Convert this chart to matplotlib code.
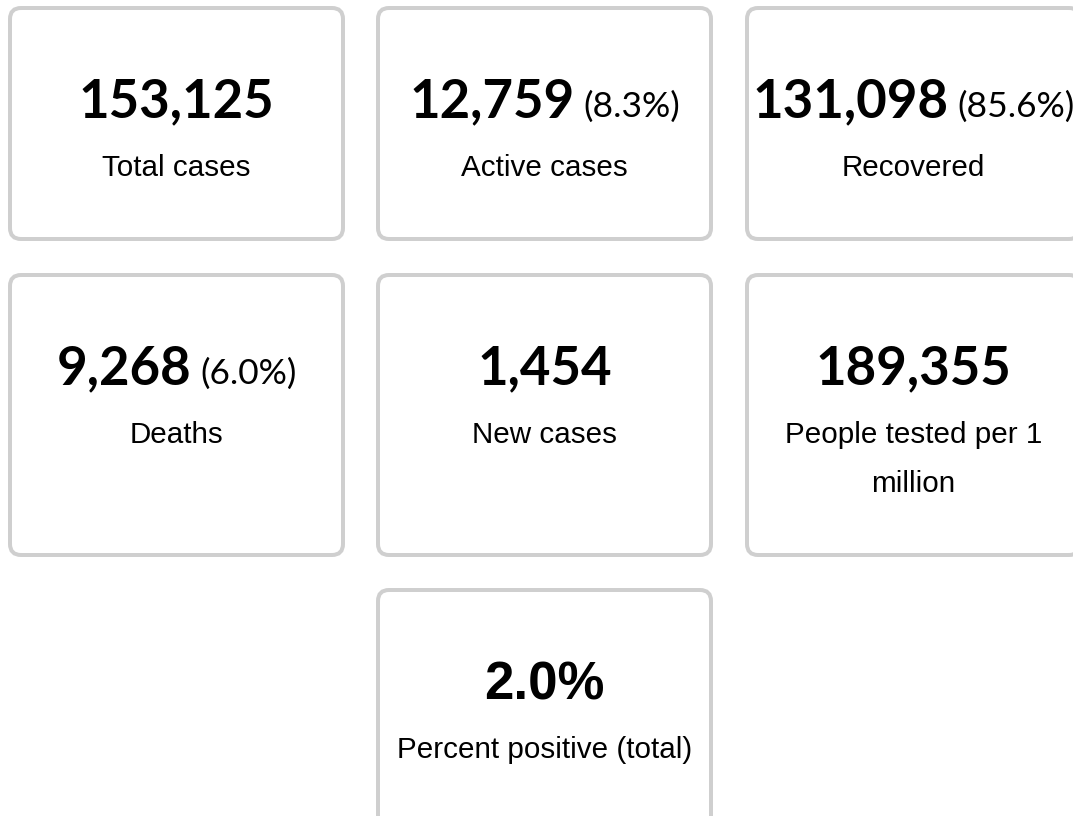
import matplotlib
matplotlib.use("Agg")
import matplotlib.pyplot as plt
from matplotlib.patches import FancyBboxPatch

# ---- data ----
values = ["153,125", "12,759", "131,098", "9,268", "1,454", "189,355", "2.0%"]
suffixes = ["", "(8.3%)", "(85.6%)", "(6.0%)", "", "", ""]
labels = ["Total cases", "Active cases", "Recovered", "Deaths", "New cases",
          "People tested per 1\nmillion", "Percent positive (total)"]
value_fonts = ["Lato", "Lato", "Lato", "Lato", "Lato", "Lato", "Liberation Sans"]
grid_cols = [0, 1, 2, 0, 1, 2, 1]
grid_rows = [0, 0, 0, 1, 1, 1, 2]

W, H = 1073, 816
fig = plt.figure(figsize=(W / 100, H / 100), dpi=100)
ax = fig.add_axes([0, 0, 1, 1])
ax.set_xlim(0, W)
ax.set_ylim(H, 0)
ax.axis("off")

col_x = [8, 376, 745]
card_w = 337
row_y = [6, 273, 588]
row_h = [235, 284, 260]
bw = 4  # border width px
px2pt = 72 / 100

for i in range(len(values)):
    c, r = grid_cols[i], grid_rows[i]
    x0, y0 = col_x[c], row_y[r]
    h = row_h[r]
    patch = FancyBboxPatch((x0 + bw / 2, y0 + bw / 2), card_w - bw, h - bw,
                           boxstyle="round,pad=0,rounding_size=11",
                           facecolor="white", edgecolor="#cfcfcf",
                           linewidth=bw * px2pt, zorder=1)
    ax.add_patch(patch)

fig.canvas.draw()
renderer = fig.canvas.get_renderer()

for i in range(len(values)):
    c, r = grid_cols[i], grid_rows[i]
    x0, y0 = col_x[c], row_y[r]
    cx = x0 + card_w / 2
    vy = y0 + 111
    ly = y0 + 170
    t1 = ax.text(0, vy, values[i], fontsize=38, fontweight="bold",
                 family=[value_fonts[i], "DejaVu Sans"], color="black",
                 ha="left", va="baseline", zorder=3)
    w1 = t1.get_window_extent(renderer).width
    w2 = 0
    gap = 0
    t2 = None
    if suffixes[i]:
        t2 = ax.text(0, vy, suffixes[i], fontsize=25.5,
                     family=[value_fonts[i], "DejaVu Sans"], color="black",
                     ha="left", va="baseline", zorder=3)
        w2 = t2.get_window_extent(renderer).width
        gap = 9
    total = w1 + gap + w2
    start = cx - total / 2
    t1.set_x(start)
    if t2 is not None:
        t2.set_x(start + w1 + gap)
    for j, line in enumerate(labels[i].split("\n")):
        ax.text(cx, ly + j * 49, line, fontsize=21.3,
                family=["Liberation Sans", "DejaVu Sans"], color="black",
                ha="center", va="baseline", zorder=3)

fig.savefig("out.png", dpi=100, facecolor="white")
